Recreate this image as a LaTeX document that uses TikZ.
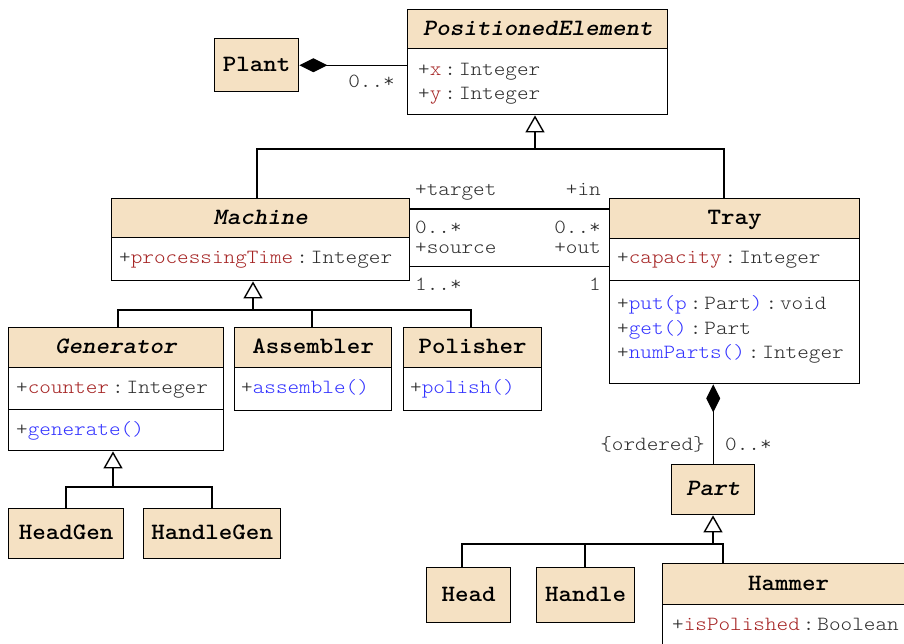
\documentclass[tikz,border=0pt]{standalone}
\usepackage{fontspec}
\usetikzlibrary{arrows.meta}
% Light typewriter face, widened to Courier proportions
\newfontfamily\umlfont{lmmonolt10}[Extension=.otf, UprightFont=*-regular, BoldFont=*-bold, ItalicFont=*-oblique, BoldItalicFont=*-boldoblique, FakeStretch=1.1]
\definecolor{hdrfill}{RGB}{245,225,195}
\definecolor{attrred}{RGB}{165,35,35}
\definecolor{methblue}{RGB}{50,50,255}
\definecolor{txtgray}{RGB}{45,45,45}
\newcommand\csep{\hspace{3pt}:\hspace{3pt}}
\newcommand\attr[2]{+\textcolor{attrred}{#1}\csep#2}
\newcommand\meth[1]{+\textcolor{methblue}{#1}}
\tikzset{
  box/.style={draw, line width=1.4pt, rectangle, inner sep=0pt, anchor=north west},
  hdr/.style={box, fill=hdrfill, font=\umlfont\fontsize{23.4}{28}\selectfont\bfseries, text height=14pt, text depth=2pt},
  comp/.style={box, fill=white},
  txt/.style={inner sep=0pt, font=\umlfont\fontsize{20.1}{24}\selectfont, text=txtgray},
  wire/.style={line width=1.4pt},
  inh/.style={line width=1.4pt, -{Triangle[open, length=17pt, width=19pt, fill=white]}},
  compo/.style={line width=1.4pt, {Diamond[length=28pt, width=14pt]}-},
}
\begin{document}
\begin{tikzpicture}[x=1pt, y=-1pt]
\useasboundingbox (0,0) rectangle (904,643);
\clip (0,0) rectangle (904,643);

% ---- classes ----
\node[hdr, minimum width=260pt, minimum height=39pt] (pe) at (407,9) {\textit{PositionedElement}};
\node[comp, minimum width=260pt, minimum height=66pt] (pe-a) at (407,48) {};
\node[txt, anchor=base west] (pe-x) at (418,75) {\attr{x}{Integer}};
\node[txt, anchor=base west] (pe-y) at (418,99) {\attr{y}{Integer}};

\node[hdr, minimum width=84pt, minimum height=53pt] (plant) at (214,38) {Plant};

\node[hdr, minimum width=298pt, minimum height=39pt] (machine) at (111,198) {\textit{Machine}};
\node[comp, minimum width=298pt, minimum height=43pt] (machine-a) at (111,237) {};
\node[txt, anchor=base west] (machine-pt) at (119,263) {\attr{processingTime}{Integer}};

\node[hdr, minimum width=250pt, minimum height=40pt] (tray) at (609,198) {Tray};
\node[comp, minimum width=250pt, minimum height=42pt] (tray-a) at (609,238) {};
\node[comp, minimum width=250pt, minimum height=103pt] (tray-m) at (609,280) {};
\node[txt, anchor=base west] (tray-cap) at (617,263) {\attr{capacity}{Integer}};
\node[txt, anchor=base west] (tray-put) at (617,309) {\meth{put(p}\csep Part\textcolor{methblue}{)}\csep void};
\node[txt, anchor=base west] (tray-get) at (617,334) {\meth{get()}\csep Part};
\node[txt, anchor=base west] (tray-num) at (617,358) {\meth{numParts()}\csep Integer};

\node[hdr, minimum width=215pt, minimum height=40pt] (gen) at (8,327) {\textit{Generator}};
\node[comp, minimum width=215pt, minimum height=42pt] (gen-a) at (8,367) {};
\node[comp, minimum width=215pt, minimum height=41pt] (gen-m) at (8,409) {};
\node[txt, anchor=base west] (gen-c) at (16,393) {\attr{counter}{Integer}};
\node[txt, anchor=base west] (gen-g) at (16,435) {\meth{generate()}};

\node[hdr, minimum width=157pt, minimum height=40pt] (asm) at (234,327) {Assembler};
\node[comp, minimum width=157pt, minimum height=43pt] (asm-m) at (234,367) {};
\node[txt, anchor=base west] (asm-a) at (241,393) {\meth{assemble()}};

\node[hdr, minimum width=138pt, minimum height=40pt] (pol) at (403,327) {Polisher};
\node[comp, minimum width=138pt, minimum height=43pt] (pol-m) at (403,367) {};
\node[txt, anchor=base west] (pol-p) at (410,393) {\meth{polish()}};

\node[hdr, minimum width=115pt, minimum height=50pt] (headgen) at (8,508) {HeadGen};
\node[hdr, minimum width=137pt, minimum height=50pt] (handlegen) at (143,508) {HandleGen};

\node[hdr, minimum width=83pt, minimum height=50pt] (part) at (671,464) {\textit{Part}};
\node[hdr, minimum width=84pt, minimum height=55pt] (head) at (426,567) {Head};
\node[hdr, minimum width=98pt, minimum height=55pt] (handle) at (536,567) {Handle};
\node[hdr, minimum width=252pt, minimum height=41pt] (hammer) at (662,563) {Hammer};
\node[comp, minimum width=252pt, minimum height=66pt] (hammer-a) at (662,604) {};
\node[txt, anchor=base west] (hammer-p) at (672,630) {\attr{isPolished}{Boolean}};

% ---- Plant owns positioned elements ----
\draw[compo] (plant.east) -- (plant.east -| pe.west);
\node[txt, anchor=base east] (m-plant) at (395,87) {0..*};

% ---- Machine and Tray are positioned elements ----
\coordinate (gpe) at (535,149);
\coordinate (gmach) at (257,149);
\coordinate (gtray) at (724,149);
\draw[wire] (gmach |- machine.north) -- (gmach) -- (gtray) -- (gtray |- tray.north);
\draw[inh] (gpe) -- (gpe |- pe-a.south);

% ---- Machine / Tray associations ----
\draw[wire] ([yshift=-11pt]machine.north east) -- ([yshift=-11pt]tray.north west);
\draw[wire] ([yshift=15pt]machine-a.south east) -- ([yshift=15pt]tray-a.south west);
\node[txt, anchor=base west] (r-target) at (415,195) {+target};
\node[txt, anchor=base east] (r-in) at (601,195) {+in};
\node[txt, anchor=base west] (m-target) at (415,233) {0..*};
\node[txt, anchor=base east] (m-in) at (601,233) {0..*};
\node[txt, anchor=base west] (r-source) at (415,253) {+source};
\node[txt, anchor=base east] (r-out) at (601,253) {+out};
\node[txt, anchor=base west] (m-source) at (415,290) {1..*};
\node[txt, anchor=base east] (m-out) at (601,290) {1};

% ---- Machine subclasses ----
\coordinate (gm2) at (253,310);
\coordinate (ggen) at (118,310);
\coordinate (gasm) at (312,310);
\coordinate (gpol) at (471,310);
\draw[wire] (ggen |- gen.north) -- (ggen) -- (gpol) -- (gpol |- pol.north);
\draw[wire] (gasm) -- (gasm |- asm.north);
\draw[inh] (gm2) -- (gm2 |- machine-a.south);

% ---- Generator subclasses ----
\coordinate (gg) at (113,487);
\coordinate (ghg) at (66,487);
\coordinate (ghdg) at (212,487);
\draw[wire] (ghg |- headgen.north) -- (ghg) -- (ghdg) -- (ghdg |- handlegen.north);
\draw[inh] (gg) -- (gg |- gen-m.south);

% ---- Tray holds parts ----
\draw[compo] (tray-m.south -| part.north) -- (part.north);
\node[txt, anchor=base east] (c-ordered) at (705,450) {\{ordered\}};
\node[txt, anchor=base west] (m-part) at (725,450) {0..*};

% ---- Part subclasses ----
\coordinate (gp) at (713,544);
\coordinate (ghead) at (462,544);
\coordinate (ghandle) at (585,544);
\coordinate (ghammer) at (723,544);
\draw[wire] (ghead |- head.north) -- (ghead) -- (ghammer) -- (ghammer |- hammer.north);
\draw[wire] (ghandle) -- (ghandle |- handle.north);
\draw[inh] (gp) -- (gp |- part.south);
\end{tikzpicture}
\end{document}
